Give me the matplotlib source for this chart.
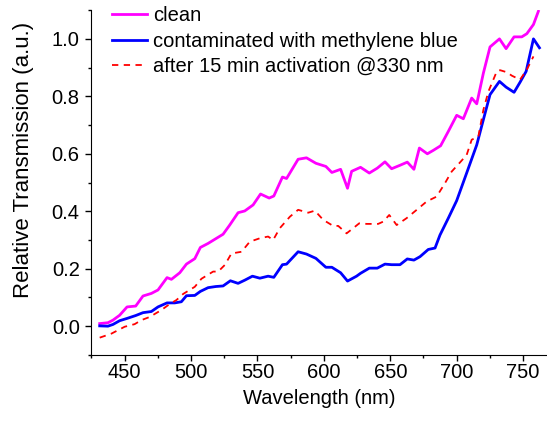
import matplotlib
matplotlib.use("Agg")
import matplotlib.pyplot as plt
from matplotlib.ticker import MultipleLocator

plt.rcParams['font.family'] = ['Liberation Sans', 'DejaVu Sans']

# clean sample
wl_clean = [431.2, 437.4, 441.2, 446.2, 451.8, 458.3, 463.8, 470.1, 475.1, 481.9,
            485.2, 491.5, 496.5, 502.8, 507.0, 512.8, 524.1, 529.1, 535.4, 540.4,
            546.7, 552.3, 558.8, 562.3, 568.8, 571.9, 580.6, 586.9, 594.0, 601.5,
            606.0, 612.6, 617.8, 620.9, 627.6, 634.2, 640.2, 646.0, 651.0, 657.3,
            662.8, 667.8, 671.9, 677.9, 682.4, 687.9, 693.7, 700.0, 705.0, 711.3,
            715.1, 720.1, 725.1, 732.2, 737.2, 743.2, 749.0, 752.8, 757.8, 761.5]
tr_clean = [0.009, 0.012, 0.021, 0.038, 0.067, 0.070, 0.105, 0.114, 0.126, 0.169,
            0.163, 0.186, 0.216, 0.235, 0.274, 0.288, 0.320, 0.352, 0.395, 0.401,
            0.422, 0.460, 0.446, 0.453, 0.519, 0.514, 0.581, 0.586, 0.567, 0.556,
            0.535, 0.546, 0.480, 0.539, 0.553, 0.533, 0.550, 0.572, 0.548, 0.560,
            0.571, 0.546, 0.620, 0.600, 0.612, 0.628, 0.678, 0.734, 0.722, 0.794,
            0.774, 0.881, 0.972, 1.000, 0.966, 1.007, 1.007, 1.018, 1.050, 1.096]

# contaminated with methylene blue
wl_mb = [431.2, 437.4, 441.2, 446.2, 451.8, 458.3, 463.8, 470.1, 475.1, 481.9,
         487.7, 492.7, 496.5, 502.8, 507.0, 512.8, 518.6, 524.1, 529.6, 535.4,
         540.4, 546.2, 551.8, 558.0, 562.3, 568.8, 571.9, 580.6, 586.9, 594.0,
         601.5, 606.0, 612.6, 617.8, 624.6, 627.6, 634.2, 640.2, 646.0, 651.0,
         657.3, 662.8, 667.8, 672.4, 678.6, 683.7, 687.4, 693.7, 700.0, 707.5,
         715.1, 720.1, 725.1, 732.2, 737.2, 743.2, 747.7, 752.3, 757.8, 762.3]
tr_mb = [0.001, 0.000, 0.006, 0.019, 0.027, 0.037, 0.047, 0.051, 0.067, 0.081,
         0.081, 0.085, 0.106, 0.107, 0.121, 0.134, 0.138, 0.140, 0.158, 0.149,
         0.160, 0.174, 0.167, 0.174, 0.170, 0.214, 0.216, 0.259, 0.251, 0.236,
         0.205, 0.205, 0.186, 0.157, 0.174, 0.184, 0.202, 0.202, 0.216, 0.214,
         0.214, 0.234, 0.230, 0.242, 0.267, 0.272, 0.317, 0.376, 0.437, 0.533,
         0.631, 0.719, 0.806, 0.852, 0.832, 0.814, 0.849, 0.887, 1.000, 0.969]

# after 15 min activation @330 nm
wl_act = [431.2, 440.0, 450.0, 457.5, 462.6, 468.8, 477.6, 483.9, 489.0, 494.0,
          502.8, 507.8, 516.6, 520.4, 525.4, 530.4, 538.0, 544.2, 551.8, 558.0,
          561.8, 566.8, 574.4, 580.6, 588.2, 593.2, 599.5, 607.0, 610.8, 617.1,
          623.4, 626.6, 632.2, 640.9, 644.7, 649.2, 654.8, 662.3, 669.9, 677.4,
          684.9, 691.2, 696.2, 702.5, 707.5, 711.3, 716.3, 720.1, 723.9, 730.2,
          732.7, 737.7, 741.5, 747.7, 752.8, 757.8]
tr_act = [-0.040, -0.026, -0.002, 0.007, 0.021, 0.032, 0.056, 0.077, 0.091, 0.112,
          0.137, 0.165, 0.190, 0.190, 0.213, 0.253, 0.259, 0.294, 0.306, 0.312,
          0.300, 0.341, 0.381, 0.405, 0.395, 0.402, 0.370, 0.349, 0.349, 0.323,
          0.346, 0.358, 0.356, 0.356, 0.364, 0.387, 0.352, 0.376, 0.405, 0.434,
          0.451, 0.498, 0.538, 0.570, 0.596, 0.649, 0.660, 0.753, 0.817, 0.887,
          0.891, 0.884, 0.872, 0.858, 0.893, 0.939]

fig = plt.figure(figsize=(5.47, 4.23), dpi=100)
ax = fig.add_axes([0.166, 0.161, 0.834, 0.815])

ax.plot(wl_clean, tr_clean, color='#ff00ff', lw=2.0, label='clean')
ax.plot(wl_mb, tr_mb, color='#0000ff', lw=2.0, label='contaminated with methylene blue')
ax.plot(wl_act, tr_act, color='#ff0000', lw=1.3, linestyle=(0, (3.5, 3)),
        label='after 15 min activation @330 nm')

ax.set_xlim(424.5, 768)
ax.set_ylim(-0.1, 1.1)
ax.xaxis.set_major_locator(MultipleLocator(50))
ax.xaxis.set_minor_locator(MultipleLocator(25))
ax.yaxis.set_major_locator(MultipleLocator(0.2))
ax.yaxis.set_minor_locator(MultipleLocator(0.1))
ax.yaxis.set_major_formatter(matplotlib.ticker.FormatStrFormatter('%.1f'))

for s in ['top', 'right']:
    ax.spines[s].set_visible(False)
ax.tick_params(which='major', direction='out', length=4, width=1, labelsize=14.5, pad=2)
ax.tick_params(which='minor', direction='out', length=2.5, width=1)
ax.tick_params(axis='y', which='major', pad=4)

ax.set_xlabel('Wavelength (nm)', fontsize=14.5, labelpad=5)
ax.set_ylabel('Relative Transmission (a.u.)', fontsize=16)
ax.yaxis.set_label_coords(-0.125, 0.565)

ax.legend(loc='upper left', bbox_to_anchor=(0.205, 0.985), bbox_transform=fig.transFigure,
          frameon=False, fontsize=14.5, handlelength=1.75, handletextpad=0.3,
          labelspacing=0.32, borderpad=0, borderaxespad=0)

fig.savefig('out.png', dpi=100)
